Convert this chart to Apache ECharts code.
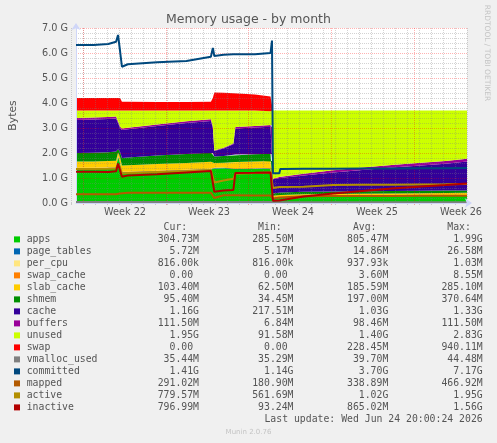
<!DOCTYPE html>
<html>
<head>
<meta charset="utf-8">
<style>
  html, body { margin: 0; padding: 0; background: #f0f0f0; }
  #chart { width: 497px; height: 443px; }
</style>
<script src="https://cdn.jsdelivr.net/npm/echarts@6/dist/echarts.min.js"></script>
</head>
<body>
<div id="chart"></div>
<script>
// graph starts Sat 23 May 2026 16:00 UTC; hours since then (one pixel = 2 h)
const startTime = Date.UTC(2026, 4, 23, 16);
const hours = [0, 36, 66, 82, 86, 90, 94, 106, 166, 226, 276, 280, 283, 302, 322, 326, 366, 398, 401, 403, 416, 418, 466, 526, 586, 646, 706, 756, 800];

// stacked areas, in GB
const apps       = [1.38, 1.38, 1.39, 1.40, 1.85, 1.60, 1.22, 1.22, 1.26, 1.30, 1.34, 1.36, 1.38, 1.39, 1.40, 1.35, 1.36, 1.38, 1.38, 0.20, 0.22, 0.22, 0.24, 0.25, 0.26, 0.27, 0.28, 0.29, 0.30];
const pageTables = [0.022, 0.022, 0.023, 0.024, 0.025, 0.026, 0.024, 0.022, 0.021, 0.021, 0.022, 0.022, 0.020, 0.019, 0.019, 0.021, 0.022, 0.023, 0.023, 0.006, 0.006, 0.006, 0.006, 0.006, 0.006, 0.006, 0.006, 0.006, 0.006];
const perCpu     = [0.001, 0.001, 0.001, 0.001, 0.001, 0.001, 0.001, 0.001, 0.001, 0.001, 0.001, 0.001, 0.001, 0.001, 0.001, 0.001, 0.001, 0.001, 0.001, 0.001, 0.001, 0.001, 0.001, 0.001, 0.001, 0.001, 0.001, 0.001, 0.001];
const swapCache  = [0.004, 0.004, 0.004, 0.004, 0.004, 0.004, 0.004, 0.004, 0.004, 0.004, 0.004, 0.006, 0.008, 0.008, 0.007, 0.005, 0.004, 0.004, 0.004, 0, 0, 0, 0, 0, 0, 0, 0, 0, 0];
const slabCache  = [0.25, 0.25, 0.26, 0.26, 0.14, 0.22, 0.25, 0.26, 0.27, 0.27, 0.28, 0.27, 0.19, 0.19, 0.20, 0.26, 0.27, 0.27, 0.27, 0.08, 0.09, 0.09, 0.10, 0.10, 0.10, 0.10, 0.10, 0.10, 0.10];
const shmem      = [0.34, 0.35, 0.35, 0.37, 0.13, 0.20, 0.30, 0.31, 0.34, 0.36, 0.37, 0.34, 0.26, 0.27, 0.27, 0.30, 0.29, 0.29, 0.29, 0.09, 0.10, 0.10, 0.10, 0.10, 0.10, 0.10, 0.10, 0.10, 0.095];
const cache      = [1.32, 1.33, 1.33, 1.32, 1.05, 0.95, 1.12, 1.13, 1.18, 1.24, 1.26, 1.00, 0.22, 0.30, 0.45, 1.04, 1.07, 1.08, 1.08, 0.57, 0.58, 0.58, 0.65, 0.76, 0.85, 0.94, 1.01, 1.07, 1.16];
const buffers    = [0.08, 0.08, 0.08, 0.08, 0.07, 0.06, 0.06, 0.06, 0.06, 0.07, 0.07, 0.06, 0.02, 0.03, 0.03, 0.06, 0.06, 0.07, 0.07, 0.02, 0.04, 0.05, 0.07, 0.09, 0.10, 0.10, 0.11, 0.11, 0.11];
const unused     = [0.30, 0.28, 0.26, 0.24, 0.43, 0.64, 0.72, 0.69, 0.56, 0.43, 0.35, 0.64, 1.60, 1.49, 1.32, 0.66, 0.62, 0.55, 0.55, 2.73, 2.66, 2.65, 2.53, 2.39, 2.28, 2.18, 2.09, 2.02, 1.93];
const swap       = [0.50, 0.50, 0.50, 0.50, 0.50, 0.50, 0.35, 0.35, 0.34, 0.34, 0.35, 0.50, 0.72, 0.71, 0.69, 0.68, 0.64, 0.59, 0.59, 0, 0, 0, 0, 0, 0, 0, 0, 0, 0];

// lines, in GB
const vmallocUsed = [0.043, 0.043, 0.043, 0.043, 0.043, 0.043, 0.043, 0.043, 0.043, 0.043, 0.043, 0.043, 0.043, 0.043, 0.043, 0.043, 0.043, 0.043, 0.043, 0.035, 0.035, 0.035, 0.035, 0.035, 0.035, 0.035, 0.035, 0.035, 0.035];
const committed   = [6.32, 6.32, 6.36, 6.45, 6.72, 6.10, 5.45, 5.55, 5.63, 5.68, 5.85, 6.20, 5.88, 5.93, 5.95, 5.95, 5.95, 6.00, 6.50, 1.19, 1.19, 1.36, 1.37, 1.37, 1.38, 1.38, 1.39, 1.39, 1.40];
const mapped      = [0.35, 0.35, 0.35, 0.35, 0.36, 0.38, 0.40, 0.41, 0.41, 0.41, 0.41, 0.38, 0.20, 0.31, 0.31, 0.31, 0.30, 0.30, 0.30, 0.18, 0.22, 0.24, 0.27, 0.28, 0.28, 0.28, 0.29, 0.29, 0.29];
const active      = [1.36, 1.36, 1.37, 1.38, 1.55, 1.45, 1.18, 1.20, 1.24, 1.28, 1.32, 1.32, 0.82, 0.90, 0.97, 1.17, 1.20, 1.22, 1.22, 0.60, 0.64, 0.65, 0.65, 0.72, 0.73, 0.73, 0.74, 0.75, 0.76];
const inactive    = [1.25, 1.25, 1.24, 1.27, 1.58, 1.50, 1.05, 1.10, 1.15, 1.22, 1.28, 1.28, 0.45, 0.50, 0.52, 1.20, 1.21, 1.22, 1.22, 0.09, 0.10, 0.11, 0.26, 0.38, 0.48, 0.58, 0.66, 0.72, 0.78];

const weekLabels = ['Week 22', 'Week 23', 'Week 24', 'Week 25', 'Week 26'];

// legend table
const names  = ['apps', 'page_tables', 'per_cpu', 'swap_cache', 'slab_cache', 'shmem', 'cache', 'buffers', 'unused', 'swap', 'vmalloc_used', 'committed', 'mapped', 'active', 'inactive'];
const colors = ['#00CC00', '#0066B3', '#FFE680', '#FF8000', '#FFCC00', '#008F00', '#330099', '#990099', '#CCFF00', '#FF0000', '#808080', '#00487D', '#B35A00', '#B38F00', '#B30000'];
const curVals = ['304.73M', '5.72M', '816.00k', '0.00', '103.40M', '95.40M', '1.16G', '111.50M', '1.95G', '0.00', '35.44M', '1.41G', '291.02M', '779.57M', '796.99M'];
const minVals = ['285.50M', '5.17M', '816.00k', '0.00', '62.50M', '34.45M', '217.51M', '6.84M', '91.58M', '0.00', '35.29M', '1.14G', '180.90M', '561.69M', '93.24M'];
const avgVals = ['805.47M', '14.86M', '937.93k', '3.60M', '185.59M', '197.00M', '1.03G', '98.46M', '1.40G', '228.45M', '39.70M', '3.70G', '338.89M', '1.02G', '865.02M'];
const maxVals = ['1.99G', '26.58M', '1.03M', '8.55M', '285.10M', '370.64M', '1.33G', '111.50M', '2.83G', '940.11M', '44.48M', '7.17G', '466.92M', '1.95G', '1.56G'];

const SANS = '"DejaVu Sans", sans-serif';
const MONO = '"DejaVu Sans Mono", monospace';
const TEXT = '#555555';

const chart = echarts.init(document.getElementById('chart'));

const HOUR = 3600 * 1000;
const pairs = vals => hours.map((h, i) => [startTime + h * HOUR, vals[i]]);

const stacked = [apps, pageTables, perCpu, swapCache, slabCache, shmem, cache, buffers, unused, swap];
const lines = [vmallocUsed, committed, mapped, active, inactive];

const series = [];
stacked.forEach((vals, i) => {
    series.push({
        type: 'line',
        name: names[i],
        stack: 'mem',
        data: pairs(vals),
        symbol: 'none',
        silent: true,
        lineStyle: { width: 0 },
        itemStyle: { color: colors[i] },
        areaStyle: { color: colors[i], opacity: 1 },
        z: 2
    });
});
lines.forEach((vals, i) => {
    const k = stacked.length + i;
    series.push({
        type: 'line',
        name: names[k],
        data: pairs(vals),
        symbol: 'none',
        silent: true,
        lineStyle: { width: 2, color: colors[k] },
        itemStyle: { color: colors[k] },
        z: 5
    });
});

// legend + texts
const graphic = [];
const txt = (x, y, text, opts) => Object.assign({
    type: 'text', x: x, y: y, silent: true,
    style: Object.assign({
        text: text, fill: TEXT, fontSize: 9.8, fontFamily: MONO,
        align: 'left', verticalAlign: 'middle',
        textAlign: 'left', textVerticalAlign: 'middle'
    }, opts || {})
});
const right = { align: 'right', textAlign: 'right' };

graphic.push(txt(248.5, 19.5, 'Memory usage - by month', {
    fontSize: 12.5, fontFamily: SANS, align: 'center', textAlign: 'center'
}));
graphic.push(Object.assign(txt(486.5, 53, 'RRDTOOL / TOBI OETIKER', {
    fontSize: 7.5, fontFamily: SANS, fill: '#c4c4c4', align: 'center', textAlign: 'center'
}), { rotation: -Math.PI / 2 }));

const colRight = [199, 293.5, 388.3, 482.7];
const headers = ['Cur:', 'Min:', 'Avg:', 'Max:'];
const cw = 5.9;
headers.forEach((h, c) => graphic.push(txt(colRight[c] - 2 * cw, 227, h, right)));

const rowY0 = 239.4, rowStep = 12;
names.forEach((name, r) => {
    const y = rowY0 + r * rowStep;
    graphic.push({
        type: 'rect', silent: true,
        shape: { x: 14, y: y - 3, width: 6, height: 6 },
        style: { fill: colors[r] }
    });
    graphic.push(txt(26.7, y, name));
    [curVals, minVals, avgVals, maxVals].forEach((col, c) => {
        const v = col[r];
        const hasUnit = /[A-Za-z]$/.test(v);
        graphic.push(txt(colRight[c] - (hasUnit ? 0 : cw), y, v, right));
    });
});
graphic.push(txt(482.7, 419.5, 'Last update: Wed Jun 24 20:00:24 2026', right));
graphic.push(txt(248.5, 432, 'Munin 2.0.76', {
    fontSize: 7, fontFamily: SANS, fill: '#c4c4c4', align: 'center', textAlign: 'center'
}));

const gridBox = { top: 28, height: 175 };
const minorGrid = { color: 'rgba(128,128,128,0.35)', width: 1, type: [1, 1] };
const majorGrid = { color: 'rgba(255,0,0,0.3)', width: 1, type: [1, 1] };

const option = {
    animation: false,
    backgroundColor: '#f0f0f0',
    grid: [
        Object.assign({ left: 67, width: 400, show: true, backgroundColor: '#ffffff', borderWidth: 0 }, gridBox),
        Object.assign({ left: 71, width: 396 }, gridBox),   // day grid lines
        Object.assign({ left: 83, width: 420 }, gridBox),   // week grid lines
        Object.assign({ left: 125, width: 336 }, gridBox)   // week labels
    ],
    xAxis: [
        {
            gridIndex: 0, type: 'time', min: startTime, max: startTime + 800 * HOUR, z: 6,
            axisLine: { show: true, symbol: ['none', 'arrow'], symbolSize: [7, 7], symbolOffset: [0, 5],
                lineStyle: { color: '#CFD6F8', width: 1 } },
            axisTick: { show: false }, axisLabel: { show: false }, splitLine: { show: false }
        },
        {
            gridIndex: 1, type: 'value', min: 0, max: 33, interval: 1, z: 3,
            axisLine: { show: false }, axisLabel: { show: false },
            axisTick: { show: true, length: 2, lineStyle: { color: '#c8c8c8' } },
            splitLine: { show: true, lineStyle: minorGrid }
        },
        {
            gridIndex: 2, type: 'value', min: 0, max: 35, interval: 7, z: 4,
            axisLine: { show: false }, axisLabel: { show: false },
            axisTick: { show: true, length: 2, lineStyle: { color: '#f0a0a0' } },
            splitLine: { show: true, lineStyle: majorGrid }
        },
        {
            gridIndex: 3, type: 'value', min: 0, max: 4, interval: 1,
            axisLine: { show: false }, axisTick: { show: false }, splitLine: { show: false },
            axisLabel: {
                show: true, margin: 9, verticalAlign: 'middle',
                color: TEXT, fontSize: 9.7, fontFamily: SANS,
                formatter: v => weekLabels[v]
            }
        }
    ],
    yAxis: [
        {
            gridIndex: 0, type: 'value', min: 0, max: 7, interval: 1, z: 4,
            name: 'Bytes', nameLocation: 'middle', nameRotate: 90, nameGap: 57,
            nameTextStyle: { color: TEXT, fontSize: 10.8, fontFamily: SANS },
            axisLine: { show: true, symbol: ['none', 'arrow'], symbolSize: [7, 7], symbolOffset: [0, 5],
                lineStyle: { color: '#CFD6F8', width: 1 } },
            axisTick: { show: false },
            axisLabel: { color: TEXT, fontSize: 9.7, fontFamily: SANS, margin: 8,
                formatter: v => v.toFixed(1) + ' G' },
            splitLine: { show: true, lineStyle: majorGrid },
            minorTick: { show: false, splitNumber: 5 },
            minorSplitLine: { show: true, lineStyle: minorGrid }
        },
        { gridIndex: 1, show: false, min: 0, max: 1 },
        { gridIndex: 2, show: false, min: 0, max: 1 },
        { gridIndex: 3, show: false, min: 0, max: 1 }
    ],
    series: series,
    graphic: graphic
};

chart.setOption(option);
</script>
</body>
</html>
